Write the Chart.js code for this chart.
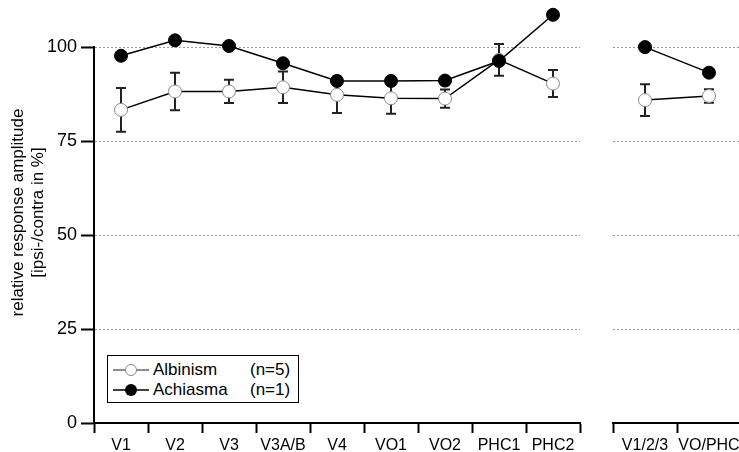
<!DOCTYPE html>
<html>
<head>
<meta charset="utf-8">
<script src="https://cdn.jsdelivr.net/npm/chart.js@4.4.1/dist/chart.umd.min.js"></script>
<style>
  body { margin: 0; background: #fff; width: 739px; height: 452px; overflow: hidden; position: relative;
         font-family: "Liberation Sans", Arial, sans-serif; }
  #main { position: absolute; left: 0; top: 0; }
  #side { position: absolute; left: 600px; top: 0; }
  #legend { position: absolute; left: 107px; top: 355px; width: 190px; height: 46px;
            border: 1.5px solid #000; background: #fff; font-size: 17px; color: #000; }
  #legend .row { position: absolute; left: 0; height: 20px; width: 100%; }
  #legend svg { position: absolute; left: 5px; top: 2px; }
  #legend .name { position: absolute; left: 45px; top: 0; line-height: 20px; }
  #legend .n { position: absolute; left: 142px; top: 0; line-height: 20px; }
</style>
</head>
<body>
<canvas id="main" width="592" height="452"></canvas>
<canvas id="side" width="145" height="452"></canvas>
<div id="legend">
  <div class="row" style="top:4px">
    <svg width="36" height="16"><line x1="0" y1="8" x2="36" y2="8" stroke="#666" stroke-width="1.5"/><circle cx="18" cy="8" r="5.5" fill="#fff" stroke="#888" stroke-width="1"/></svg>
    <span class="name">Albinism</span><span class="n">(n=5)</span>
  </div>
  <div class="row" style="top:24px">
    <svg width="36" height="16"><line x1="0" y1="8" x2="36" y2="8" stroke="#000" stroke-width="1.5"/><circle cx="18" cy="8" r="6" fill="#000"/></svg>
    <span class="name">Achiasma</span><span class="n">(n=1)</span>
  </div>
</div>
<script>
// categories
const regions = ["V1", "V2", "V3", "V3A/B", "V4", "VO1", "VO2", "PHC1", "PHC2"];
const pooled = ["V1/2/3", "VO/PHC"];

// Albinism (mean and error) per region
const albinismMain = [83.3, 88.2, 88.2, 89.3, 87.3, 86.4, 86.3, 96.6, 90.3];
const albinismErrMain = [5.8, 5.0, 3.1, 4.2, 4.8, 4.1, 2.4, 4.2, 3.6];
const albinismPooled = [85.9, 87.0];
const albinismErrPooled = [4.2, 1.8];

// Achiasma per region
const achiasmaMain = [97.7, 101.8, 100.3, 95.7, 91.0, 91.0, 91.1, 96.3, 108.6];
const achiasmaPooled = [100.0, 93.2];

const yTicks = [0, 25, 50, 75, 100];

const fontFamily = '"Liberation Sans", Arial, sans-serif';

// error bars drawn below the points
const errorBars = {
  id: 'errorBars',
  beforeDatasetsDraw(chart) {
    const ctx = chart.ctx;
    const yScale = chart.scales.y;
    chart.data.datasets.forEach((ds, i) => {
      if (!ds.errors) return;
      const meta = chart.getDatasetMeta(i);
      ctx.save();
      ctx.strokeStyle = '#222';
      ctx.lineWidth = 2;
      meta.data.forEach((pt, j) => {
        const v = ds.data[j];
        const e = ds.errors[j];
        const yTop = yScale.getPixelForValue(v + e);
        const yBot = yScale.getPixelForValue(v - e);
        ctx.beginPath();
        ctx.moveTo(pt.x, yTop); ctx.lineTo(pt.x, yBot);
        ctx.moveTo(pt.x - 5, yTop); ctx.lineTo(pt.x + 5, yTop);
        ctx.moveTo(pt.x - 5, yBot); ctx.lineTo(pt.x + 5, yBot);
        ctx.stroke();
      });
      ctx.restore();
    });
  }
};

// y axis line only from 0 to 100 (the scale goes a bit higher for the PHC2 point)
const yAxisLine = {
  id: 'yAxisLine',
  afterDraw(chart, args, opts) {
    if (!opts.show) return;
    const y = chart.scales.y;
    const x = Math.round(chart.chartArea.left);
    const ctx = chart.ctx;
    ctx.save();
    ctx.strokeStyle = '#000';
    ctx.lineWidth = 2;
    ctx.beginPath();
    ctx.moveTo(x, y.getPixelForValue(0) + 1);
    ctx.lineTo(x, y.getPixelForValue(yTicks[yTicks.length - 1]) - 1);
    ctx.stroke();
    ctx.restore();
  }
};

function makeChart(id, labels, alb, albErr, ach, showY, padding) {
  return new Chart(document.getElementById(id), {
    type: 'line',
    data: {
      labels: labels,
      datasets: [
        {
          label: 'Achiasma (n=1)',
          data: ach,
          order: 0,
          clip: false,
          borderColor: '#000',
          borderWidth: 1.5,
          pointRadius: 6.5,
          pointBackgroundColor: '#000',
          pointBorderColor: '#000',
          pointBorderWidth: 1,
          tension: 0
        },
        {
          label: 'Albinism (n=5)',
          data: alb,
          errors: albErr,
          order: 1,
          clip: false,
          borderColor: '#000',
          borderWidth: 1.5,
          pointRadius: 6.5,
          pointBackgroundColor: '#fff',
          pointBorderColor: '#888',
          pointBorderWidth: 1,
          tension: 0
        }
      ]
    },
    options: {
      responsive: false,
      animation: false,
      layout: { padding: padding, autoPadding: false },
      plugins: { legend: { display: false }, tooltip: { enabled: false }, yAxisLine: { show: showY } },
      scales: {
        x: {
          type: 'category',
          offset: true,
          grid: { offset: true, drawOnChartArea: false, tickLength: 10, tickColor: '#000', tickWidth: 2 },
          border: { color: '#000', width: 2 },
          ticks: { color: '#000', font: { family: fontFamily, size: 16 }, padding: 3, maxRotation: 0, autoSkip: false },
          afterFit: s => { s.height = 29; s.paddingLeft = 0; s.paddingRight = 0; }
        },
        y: {
          min: 0,
          max: 112,
          afterBuildTicks: s => { s.ticks = yTicks.map(v => ({ value: v })); },
          grid: {
            color: c => (c.tick && c.tick.value === 0) ? 'rgba(0,0,0,0)' : '#999',
            lineWidth: 1,
            drawTicks: showY,
            tickLength: 13,
            tickColor: '#000',
            tickWidth: 2,
            tickBorderDash: []
          },
          border: { display: showY, color: 'rgba(0,0,0,0)', width: 2, dash: [2, 2] },
          ticks: { display: showY, color: '#000', font: { family: fontFamily, size: 18 }, padding: 4 },
          title: {
            display: showY,
            text: ['relative response amplitude', '[ipsi-/contra in %]'],
            color: '#000',
            font: { family: fontFamily, size: 17, lineHeight: 1.15 },
            padding: { top: 9, bottom: 0 }
          },
          afterFit: s => { s.width = showY ? 94 : 0; s.paddingTop = 0; s.paddingBottom = 0; }
        }
      }
    },
    plugins: [errorBars, yAxisLine]
  });
}

makeChart('main', regions, albinismMain, albinismErrMain, achiasmaMain, true,
  { top: 2, right: 12, left: 0, bottom: 0 });
makeChart('side', pooled, albinismPooled, albinismErrPooled, achiasmaPooled, false,
  { top: 2, right: 4, left: 13, bottom: 0 });
</script>
</body>
</html>
